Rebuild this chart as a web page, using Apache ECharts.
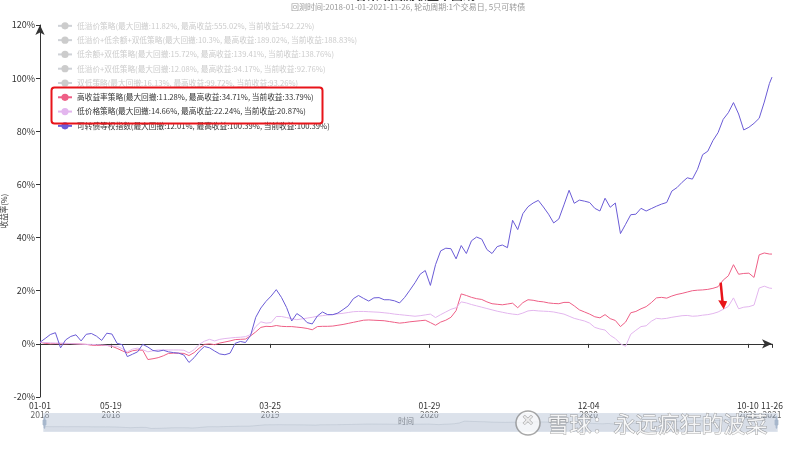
<!DOCTYPE html>
<html><head><meta charset="utf-8">
<script src="https://cdn.jsdelivr.net/npm/echarts@6/dist/echarts.min.js"></script>
<style>html,body{margin:0;padding:0;background:#fff}#c{width:800px;height:450px}</style>
</head><body><div id="c"></div>
<script>
// ---------- data ----------
const startDate = [2018, 1, 1];
const stepDays = 10;
const endDate = '2021-11-26';
const tickDates = ['2018-01-01','2018-05-19','2019-03-25','2020-01-29','2020-12-04','2021-10-10','2021-11-26'];

const seriesNames = [
  '低溢价策略(最大回撤:11.82%, 最高收益:555.02%, 当前收益:542.22%)',
  '低溢价+低余额+双低策略(最大回撤:10.3%, 最高收益:189.02%, 当前收益:188.83%)',
  '低余额+双低策略(最大回撤:15.72%, 最高收益:139.41%, 当前收益:138.76%)',
  '低溢价+双低策略(最大回撤:12.08%, 最高收益:94.17%, 当前收益:92.76%)',
  '双低策略(最大回撤:16.13%, 最高收益:99.72%, 当前收益:93.26%)',
  '高收益率策略(最大回撤:11.28%, 最高收益:34.71%, 当前收益:33.79%)',
  '低价格策略(最大回撤:14.66%, 最高收益:22.24%, 当前收益:20.87%)',
  '可转债等权指数(最大回撤:12.01%, 最高收益:100.39%, 当前收益:100.39%)'
];
const shownNames = [seriesNames[5], seriesNames[6], seriesNames[7]];

const highYield = [0.6,0.2,0.0,0.1,0.0,0.0,0.1,0.0,-0.1,-0.2,
-0.5,-0.6,-0.6,-0.6,-0.9,-1.7,-2.6,-3.4,-2.6,-2.3,
-2.4,-5.9,-5.6,-5.2,-4.5,-3.6,-3.5,-3.5,-3.6,-4.4,
-3.3,-1.6,-0.2,0.0,-0.3,0.3,0.7,1.1,1.6,1.7,
1.8,3.0,4.5,6.2,6.6,6.5,6.9,6.6,6.5,6.5,
6.3,6.1,5.8,5.3,6.5,6.6,6.6,6.7,7.0,7.3,
7.7,8.1,8.5,8.9,9.0,8.9,8.8,8.7,8.4,8.1,
7.8,8.0,8.3,8.5,8.7,8.9,8.0,7.0,8.2,8.9,
10.0,12.5,18.8,18.2,17.5,17.0,16.7,15.8,15.1,14.9,
14.7,15.0,15.3,13.6,15.5,16.6,16.4,16.0,15.8,15.4,
15.2,15.1,15.6,15.6,14.3,12.8,12.0,11.2,10.2,9.8,
11.0,9.5,8.8,6.5,8.2,11.7,12.2,13.2,14.0,15.5,
17.3,17.5,17.2,18.0,18.6,19.0,19.5,20.0,20.2,20.3,
20.5,20.9,21.5,24.0,25.6,29.8,26.2,26.5,26.6,25.0,
33.5,34.2,33.8,33.79];

const lowPrice = [0.6,0.5,0.4,0.3,0.3,0.2,0.1,0.0,-0.1,-0.2,
-0.2,-0.3,-0.4,-0.6,-0.8,-0.9,-1.8,-3.0,-2.0,-1.6,
-2.2,-3.0,-2.6,-2.3,-2.3,-2.3,-2.3,-2.3,-2.4,-3.4,
-2.2,-0.2,1.0,1.7,1.1,1.7,2.0,2.2,2.4,2.5,
2.7,3.5,6.5,8.3,7.8,8.0,10.3,10.3,9.9,9.5,
9.1,9.4,9.7,10.0,10.4,10.6,10.9,11.0,11.3,11.5,
11.8,12.1,12.2,12.2,12.1,12.0,11.9,11.7,11.5,11.2,
11.0,10.8,10.6,10.4,10.6,10.9,11.2,9.9,11.0,12.0,
13.0,13.6,15.8,15.4,14.8,14.3,13.8,13.3,12.8,12.3,
11.9,11.5,11.2,11.0,11.6,12.4,12.6,12.4,12.3,12.2,
12.0,11.6,11.2,10.4,9.6,9.1,8.6,7.8,6.2,5.6,
5.2,3.2,2.0,0.0,-0.9,3.6,5.1,6.5,6.8,8.5,
9.6,9.4,9.6,10.0,10.3,10.6,10.7,10.4,10.5,10.8,
11.0,11.4,12.0,13.0,14.1,17.3,13.2,13.8,14.0,14.6,
21.0,21.7,21.0,20.87];

const cbIndex = [0.6,2.0,3.5,4.2,-1.5,1.5,2.8,3.4,1.1,3.6,
3.9,2.9,1.3,4.0,3.7,0.2,-0.3,-4.8,-3.9,-3.0,
-0.2,-1.2,-2.5,-2.8,-2.4,-3.0,-3.3,-3.5,-4.2,-7.0,
-5.2,-2.8,-1.0,-1.5,-2.7,-3.8,-4.1,-3.5,0.2,0.9,
0.5,3.2,10.0,13.5,16.0,18.0,20.4,17.5,13.7,8.6,
11.4,10.1,8.0,7.5,10.5,12.0,11.0,11.0,11.6,12.9,
14.3,17.0,18.2,17.1,16.1,17.3,17.4,16.6,16.6,16.2,
15.4,17.5,20.2,23.0,26.2,27.6,22.0,29.8,35.0,36.0,
35.8,32.0,37.0,34.0,38.8,40.2,39.4,35.5,34.0,36.6,
37.2,36.2,46.5,43.0,49.0,51.6,53.0,54.0,51.5,48.8,
45.5,47.0,52.3,57.8,52.9,54.1,53.7,53.2,51.0,50.0,
54.8,51.4,53.0,41.5,45.0,48.6,48.8,51.0,50.0,50.9,
51.8,52.6,53.2,57.5,58.8,60.8,62.5,62.0,65.7,71.2,
72.5,76.5,79.5,84.5,87.0,90.8,86.5,80.5,81.5,83.0,
84.9,91.0,98.0,100.39];

// ---------- helpers ----------
function pad(n){return (n<10?'0':'')+n;}
function fmt(d){return d.getFullYear()+'-'+pad(d.getMonth()+1)+'-'+pad(d.getDate());}
function ts(s){const p=s.split('-');return new Date(+p[0],+p[1]-1,+p[2]).getTime();}
const dates = [];
for (let i = 0; i < highYield.length - 1; i++) {
  dates.push(fmt(new Date(startDate[0], startDate[1]-1, startDate[2] + i*stepDays)));
}
dates.push(endDate);
const tickTs = tickDates.map(ts);
function pairs(vals){return vals.map((v,i)=>[ts(dates[i]), v]);}

const FONT = '"Noto Sans CJK SC","Noto Sans",sans-serif';
const colors = ['#c23531','#2f4554','#61a0a8','#d48265','#91c7ae','#ee5f86','#e3b6ee','#6a5bd6'];
const selected = {};
seriesNames.forEach(n => selected[n] = shownNames.indexOf(n) >= 0);
const valueMap = {};
valueMap[seriesNames[5]] = highYield;
valueMap[seriesNames[6]] = lowPrice;
valueMap[seriesNames[7]] = cbIndex;

const chart = echarts.init(document.getElementById('c'));
const baseGraphic = [
  {type: 'rect', left: 49, top: 85, shape: {width: 271, height: 36, r: 3}, style: {fill: 'none', stroke: '#e8141a', lineWidth: 2}, z: 100},
  {type: 'circle', shape: {cx: 528, cy: 423, r: 12}, style: {fill: 'rgba(255,255,255,0.7)', stroke: 'rgba(110,110,110,0.6)', lineWidth: 1.5}, z: 100},
  {type: 'text', left: 521, top: 414, style: {text: '✕', font: 'bold 14px sans-serif', fill: 'rgba(255,255,255,0.8)', stroke: 'rgba(110,110,110,0.6)', lineWidth: 1}, z: 100},
  {type: 'text', left: 547, top: 412, style: {text: '雪球：永远疯狂的波菜', font: '22px "Noto Sans CJK SC"', fill: 'rgba(255,255,255,0.85)', stroke: 'rgba(110,110,110,0.6)', lineWidth: 1}, z: 100}
];
const option = {
  animation: false,
  textStyle: {fontFamily: FONT},
  color: colors,
  title: [{
    text: '各策略回测收益率曲线',
    left: 350, top: -16,
    textStyle: {fontSize: 12, fontWeight: 'bold', color: '#333', fontFamily: FONT}
  }, {
    text: '回测时间:2018-01-01-2021-11-26, 轮动周期:1个交易日, 5只可转债',
    left: 291, top: 3, padding: 0,
    textStyle: {fontSize: 8, fontWeight: 'normal', color: '#999', fontFamily: FONT}
  }],
  legend: {
    orient: 'vertical', left: 57, top: 22, padding: 0,
    itemWidth: 14, itemHeight: 9, itemGap: 6.6,
    textStyle: {fontSize: 7.7, color: '#333', fontFamily: FONT},
    inactiveColor: '#ccc',
    data: seriesNames, selected: selected
  },
  grid: {left: 40, right: 28, top: 25, bottom: 53, containLabel: false, outerBoundsMode: 'none'},
  xAxis: {
    type: 'value', min: ts(dates[0]), max: ts(endDate),
    name: '时间', nameLocation: 'middle', nameGap: 20, nameMoveOverlap: false,
    nameTextStyle: {fontSize: 8, color: '#666'},
    axisLine: {lineStyle: {color: '#333'}, symbol: ['none','arrow'], symbolSize: [7, 10]},
    axisTick: {customValues: tickTs, length: 4, lineStyle:{color:'#333'}},
    splitLine: {show: false},
    axisLabel: {
      customValues: tickTs, margin: 4,
      formatter: function (v) {
        const d = new Date(v);
        return '{a|' + pad(d.getMonth()+1) + '-' + pad(d.getDate()) + '}\n{b|' + d.getFullYear() + '}';
      },
      rich: {a: {fontSize: 8.5, color: '#333', lineHeight: 9}, b: {fontSize: 8.5, color: '#666', lineHeight: 9}}
    }
  },
  yAxis: {
    type: 'value', min: -20, max: 120, interval: 20,
    name: '收益率(%)', nameLocation: 'middle', nameGap: 32, nameMoveOverlap: false,
    nameTextStyle: {fontSize: 7.5, color: '#333'},
    axisLine: {show: true, lineStyle: {color: '#333'}, symbol: ['none','arrow'], symbolSize: [7, 10]},
    axisTick: {show: true, length: 4, lineStyle:{color:'#333'}},
    splitLine: {show: false},
    axisLabel: {formatter: '{value}%', fontSize: 9, color: '#333', margin: 5}
  },
  dataZoom: [{
    type: 'slider', xAxisIndex: 0, start: 0, end: 100,
    left: 41, right: 25, top: 413, height: 19,
    backgroundColor: 'rgba(0,0,0,0)', borderColor: '#dde3ec',
    fillerColor: 'rgba(167,183,204,0.4)',
    dataBackground: {lineStyle: {color: '#2f4554', width: 0.5, opacity: 0.3}, areaStyle: {color: 'rgba(47,69,84,0.15)'}},
    selectedDataBackground: {lineStyle: {color: '#2f4554', width: 0.5, opacity: 0.3}, areaStyle: {color: 'rgba(47,69,84,0.15)'}},
    handleIcon: 'path://M8.2,13.6V3.9H6.3v9.7H3.1v14.9h3.3v9.7h1.8v-9.7h3.3V13.6H8.2z M9.7,24.4H4.8v-1.4h4.9V24.4z M9.7,19.1H4.8v-1.4h4.9V19.1z',
    handleSize: '60%', handleStyle: {color: '#a7b7cc', borderColor: '#a7b7cc'},
    showDetail: false, moveHandleSize: 0, brushSelect: false
  }],
  series: seriesNames.map((n, i) => ({
    name: n, type: 'line', showSymbol: false, symbol: 'circle', symbolSize: 4,
    lineStyle: {width: 1, color: colors[i]}, itemStyle: {color: colors[i]},
    data: valueMap[n] ? pairs(valueMap[n]) : []
  })),
  graphic: baseGraphic
};
chart.setOption(option);

// red annotation arrow pointing at the low-price line
const arrowDate = '2021-08-21';
const p1 = chart.convertToPixel({gridIndex: 0}, [ts(arrowDate), 23]);
const p2 = chart.convertToPixel({gridIndex: 0}, [ts(arrowDate), 13]);
if (p1 && p2) {
  chart.setOption({graphic: baseGraphic.concat([
    {type: 'line', shape: {x1: p1[0] - 1.5, y1: p1[1], x2: p2[0] + 0.5, y2: p2[1] - 6}, style: {stroke: '#e8141a', lineWidth: 2.5}, z: 100},
    {type: 'polygon', shape: {points: [[p2[0] - 4, p2[1] - 9], [p2[0] + 5, p2[1] - 8], [p2[0] + 1.5, p2[1]]]}, style: {fill: '#e8141a'}, z: 100}
  ])});
}
</script></body></html>
